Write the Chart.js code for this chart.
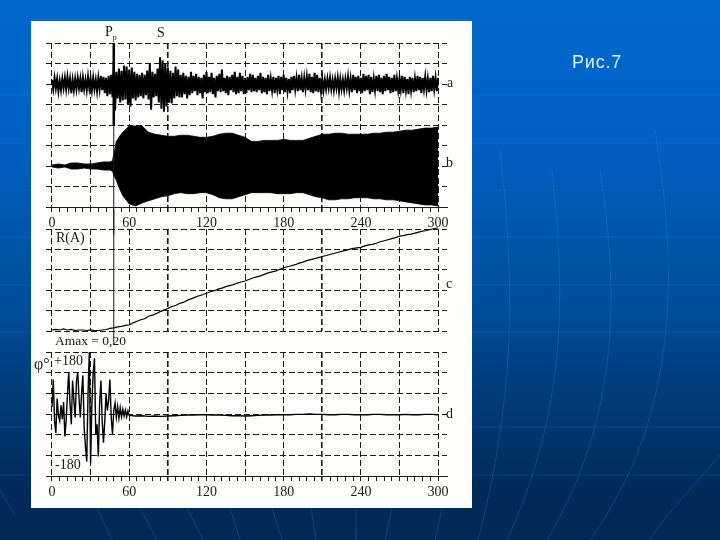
<!DOCTYPE html>
<html>
<head>
<meta charset="utf-8">
<script src="https://cdn.jsdelivr.net/npm/chart.js@4"></script>
<style>
html, body { margin: 0; padding: 0; }
#slide { position: relative; width: 720px; height: 540px; overflow: hidden;
  background: linear-gradient(to bottom, #0068cf 0%, #0061c2 25%, #004f9d 55%, #003a75 75%, #002a58 92%, #002855 100%); }
#deco { position: absolute; left: 0; top: 0; }
#sheet { position: absolute; left: 31px; top: 21px; width: 441px; height: 487px; background: #fdfdfb; }
canvas { position: absolute; left: 0; }
.t { position: absolute; font-family: "Liberation Serif", serif; font-size: 14px; color: #1a1a1a; line-height: 1; white-space: nowrap; }
#caption { position: absolute; left: 572px; top: 52px; font-family: "Liberation Sans", sans-serif; font-size: 18px; letter-spacing: 0.8px; color: #d5f2ff; }
</style>
</head>
<body>
<div id="slide">
  <svg id="deco" width="720" height="540" fill="none" stroke="#3f8fe0" stroke-opacity="0.25">
    <path d="M0 95H720M0 143H720M0 190H720M0 237H720M0 285H720M0 332H720M0 427H720M0 475H720" stroke-opacity="0.18"/>
    <path d="M500 150C512 260 520 380 478 540M552 170C566 300 566 410 507 540M600 170C620 300 618 420 547 540M655 130C680 280 676 420 590 540M720 455C690 490 665 515 650 540"/>
    <path d="M97 508L112 540M140 508L157 540M187 508L203 540M230 508L240 540M272 508L282 540M311 508L316 540M356 508L356 540M392 508L385 540M442 508L435 540M0 490L15 515"/>
  </svg>
  <div id="sheet"></div>
  <canvas id="seismogram" width="720" height="235" style="top:0"></canvas>
  <canvas id="ratio" width="720" height="135" style="top:210px"></canvas>
  <canvas id="phase" width="720" height="170" style="top:340px"></canvas>

  <span class="t" style="left:105px;top:25px">P<sub style="font-size:8px">p</sub></span>
  <span class="t" style="left:157px;top:26px">S</span>
  <span class="t" style="left:447px;top:76px">a</span>
  <span class="t" style="left:446px;top:156px">b</span>
  <span class="t" style="left:446px;top:277px">c</span>
  <span class="t" style="left:446px;top:407px">d</span>
  <span class="t" style="left:56px;top:231px">R(A)</span>
  <span class="t" style="left:55px;top:334px;font-size:13.5px">Amax = 0,20</span>
  <span class="t" style="left:34px;top:356px;font-size:16px">φ°</span>
  <span class="t" style="left:54px;top:354px">+180</span>
  <span class="t" style="left:55px;top:458px">-180</span>
  <span id="caption">Рис.7</span>
</div>

<script>
// Trace a, one reading per second from 0 to 300 s
const traceA = [
  4,-5,6,-4,5,-7,3,-6,5,-4,
  6,-5,7,-4,5,-9,4,-6,5,-5,
  6,-4,5,-8,6,-5,4,-6,7,-4,
  5,-6,6,-5,4,-7,6,-5,8,-6,
  7,-9,6,-12,8,-10,9,-13,22,-26,
  12,-14,15,-18,13,-16,18,-15,17,-20,
  14,-22,16,-14,12,-16,10,-13,9,-12,
  11,-14,9,-11,13,-15,20,-25,12,-13,
  10,-12,15,-18,26,-24,23,-27,20,-22,
  16,-18,13,-19,11,-14,17,-12,14,-13,
  9,-13,11,-10,8,-14,7,-11,12,-9,
  8,-7,10,-11,7,-9,6,-14,9,-8,
  12,-9,7,-8,11,-10,6,-13,8,-7,
  10,-8,14,-7,6,-9,8,-11,7,-6,
  9,-8,12,-10,7,-9,11,-7,8,-10,
  6,-9,7,-6,10,-8,9,-7,6,-8,
  8,-6,11,-9,7,-8,6,-10,9,-7,
  5,-6,7,-9,6,-5,8,-10,7,-6,
  9,-8,6,-7,5,-9,7,-6,8,-5,
  6,-7,9,-6,5,-8,6,-5,7,-6,
  10,-8,7,-9,11,-7,9,-8,6,-7,
  5,-6,4,-5,5,-4,6,-5,4,-6,
  5,-4,6,-7,5,-5,4,-6,5,-4,
  7,-6,5,-8,9,-6,7,-9,8,-7,
  6,-9,10,-7,8,-6,9,-10,7,-8,
  5,-6,8,-7,9,-8,6,-10,8,-7,
  10,-6,7,-9,6,-8,9,-7,5,-6,
  6,-5,8,-9,7,-6,5,-10,7,-6,
  6,-8,5,-7,8,-6,7,-9,6,-5,
  7,-6,5,-8,6,-7,8,-5,6,-7,
  6
];

// Trace b envelope, every 5 s, plus the onset readings
const envelopeTimes = [0,5,10,15,20,25,30,35,40,45,47,48,50,52,55,60,65,70,75,80,85,90,95,100,105,110,115,120,125,130,135,140,145,150,155,160,165,170,175,180,185,190,195,200,205,210,215,220,225,230,235,240,245,250,255,260,265,270,275,280,285,290,295,300];
const envelopeUpper = [1,2,1,3,3,2,2,3,4,4,5,12,24,28,33,39,39,39,33,31,30,29,29,30,30,29,28,28,29,31,32,32,30,28,24,24,25,25,25,26,25,25,25,27,29,31,31,32,32,31,31,31,31,32,32,33,33,34,35,35,36,37,37,38];
const envelopeLower = [1,2,1,3,3,2,3,3,4,4,5,9,14,21,29,37,39,36,34,32,30,29,27,26,27,27,26,26,28,31,32,32,30,28,26,26,26,26,27,27,27,26,26,28,30,31,33,33,32,32,31,31,31,32,32,33,33,34,35,36,37,38,38,39];

// Trace c, every 3 s
const ratioValues = [
  1,1.5,1,2,1,1.5,0.5,1,1,0.5,1,0.5,0.5,1,1.5,2.5,3,4,4.5,5.5,
  6,8,9.5,11,12,14.5,15.5,17,19,20.5,22,24,25,27,28,30,31.5,33,34.5,35.5,
  37,38.5,39.5,41,42,43.5,44.5,45.5,47,48,49,50.5,52,53,54,55.5,57,58,59,60.5,
  62,63,64,65,66.5,67.5,69,70,71,72,73,74,75,76,77,78,79,80,81,81.5,
  82,83.5,84.5,85,86,87.5,88.5,89.5,90.5,91.5,93,93.5,94.5,95,96,97,98,98.5,99.5,100.5,
  101
];

// Trace d: one reading per second to 60 s, then every 5 s
const phaseEarly = [
  20,100,-20,-55,45,-5,-20,25,-15,35,-65,-20,55,122,30,-30,97,40,-10,95,
  122,45,-10,60,112,-40,-95,-138,60,180,-143,30,120,162,-60,-30,-123,30,97,-20,
  -83,-20,60,10,40,100,-10,-58,10,32,-10,22,-12,18,-8,14,-6,12,-8,9,-4
];
const phaseLate = [
  -6,-5,-7,-6,-7,-6,-5,-4,-3,-3,-2,-2,-3,-3,-4,-5,-5,-6,-5,-4,-3,-3,-2,-2,
  -2,-1,-1,0,-1,-1,-2,-2,-1,-1,-2,-2,-2,-1,-1,-2,-2,-2,-1,-2,-2,-1,-1,-2
];

const xTicks = Array.from({ length: 51 }, (_, i) => i * 6);
const pArrival = 48;
const xMin = -4.66, xMax = 306.9;
const ink = '#1c1c1c';

const traceAPoints = traceA.map((v, i) => ({ x: i, y: v }));
const upperPoints = envelopeTimes.map((t, i) => ({ x: t, y: envelopeUpper[i] }));
const lowerPoints = envelopeTimes.map((t, i) => ({ x: t, y: -envelopeLower[i] }));
const ratioPoints = ratioValues.map((v, i) => ({ x: i * 3, y: v }));
const phasePoints = phaseEarly.map((v, i) => ({ x: i, y: v }))
  .concat(phaseLate.map((v, i) => ({ x: 65 + i * 5, y: v })));

function xAxis(showLabels) {
  return {
    type: 'linear', min: xMin, max: xMax,
    afterBuildTicks: scale => { scale.ticks = xTicks.map(v => ({ value: v })); },
    afterFit: scale => { scale.height = showLabels ? 28 : 0; },
    grid: {
      color: c => (c.tick && c.tick.value % 30 === 0) ? ink : 'rgba(0,0,0,0)',
      tickColor: ink, tickLength: showLabels ? 5 : 0,
      lineWidth: c => (c.tick && (c.tick.value === 90 || c.tick.value === 210)) ? 1.6 : 1
    },
    border: { display: showLabels, color: ink, dash: [6, 3] },
    ticks: {
      display: showLabels, autoSkip: false, maxRotation: 0, padding: 3, color: ink,
      font: { family: '"Liberation Serif", serif', size: 14 },
      callback: v => (v % 60 === 0 ? String(v) : '')
    }
  };
}

function yAxis(min, max, step) {
  return {
    min: min, max: max,
    afterFit: scale => { scale.width = 0; },
    ticks: { display: false, stepSize: step },
    grid: { color: ink, lineWidth: 1, drawTicks: false },
    border: { display: false, dash: [6, 3] }
  };
}

// Thin line of the P arrival running down past the top panel
const arrivalLine = {
  id: 'arrivalLine',
  afterDatasetsDraw(chart, args, opts) {
    const x = chart.scales.x.getPixelForValue(pArrival);
    const ctx = chart.ctx;
    ctx.save();
    ctx.strokeStyle = ink;
    ctx.lineWidth = 1;
    ctx.beginPath();
    ctx.moveTo(x, opts.from);
    ctx.lineTo(x, opts.to);
    ctx.stroke();
    ctx.restore();
  }
};

function lineSet(points, width, yAxisID) {
  return {
    data: points, borderColor: '#000', borderWidth: width, pointRadius: 0,
    tension: 0, yAxisID: yAxisID || 'y', clip: false
  };
}

const common = {
  responsive: false,
  animation: false,
  events: [],
  plugins: { legend: { display: false }, tooltip: { enabled: false } }
};

new Chart(document.getElementById('seismogram'), {
  type: 'line',
  plugins: [arrivalLine],
  data: {
    datasets: [
      lineSet(traceAPoints, 2),
      lineSet([{ x: pArrival, y: 40 }, { x: pArrival, y: -40 }], 2.5),
      Object.assign(lineSet(upperPoints, 0.8, 'yB'), { fill: '+1', backgroundColor: '#000' }),
      lineSet(lowerPoints, 0.8, 'yB')
    ]
  },
  options: Object.assign({}, common, {
    layout: { padding: { left: 46, right: 273, top: 43, bottom: 0 } },
    plugins: Object.assign({}, common.plugins, { arrivalLine: { from: 124, to: 235 } }),
    scales: {
      x: xAxis(true),
      y: yAxis(-120, 40, 20),
      yB: { display: false, min: -40, max: 120 }
    }
  })
});

new Chart(document.getElementById('ratio'), {
  type: 'line',
  plugins: [arrivalLine],
  data: { datasets: [lineSet(ratioPoints, 1.2)] },
  options: Object.assign({}, common, {
    layout: { padding: { left: 46, right: 273, top: 19, bottom: 14 } },
    plugins: Object.assign({}, common.plugins, { arrivalLine: { from: 0, to: 135 } }),
    scales: { x: xAxis(false), y: yAxis(0, 100, 20) }
  })
});

new Chart(document.getElementById('phase'), {
  type: 'line',
  data: { datasets: [lineSet(phasePoints, 1.4)] },
  options: Object.assign({}, common, {
    layout: { padding: { left: 46, right: 273, top: 12, bottom: 6 } },
    scales: { x: xAxis(true), y: yAxis(-180, 180, 60) }
  })
});
</script>
</body>
</html>
